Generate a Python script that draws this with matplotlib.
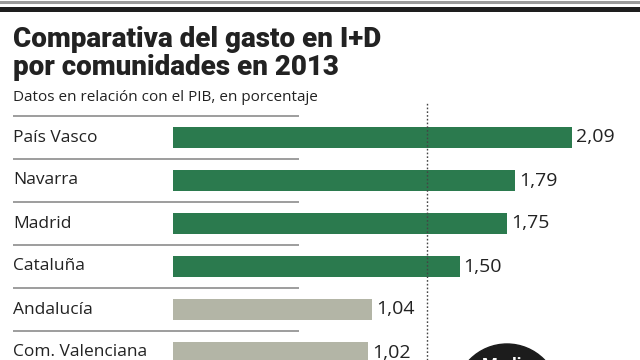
import matplotlib.pyplot as plt
from matplotlib.patches import Ellipse

regions = ['País Vasco', 'Navarra', 'Madrid', 'Cataluña', 'Andalucía', 'Com. Valenciana']
values = [2.09, 1.79, 1.75, 1.50, 1.04, 1.02]
above_mean = [True, True, True, True, False, False]
spain_mean = 1.33  # position of the dotted reference line

GREEN = '#2b7a4e'
GREY = '#b3b5a6'
TEXT = '#222222'

W, H = 640, 360
fig = plt.figure(figsize=(6.4, 3.6), dpi=100)
fig.patch.set_facecolor('white')

# axes covering the full width, below the subtitle
px_per_unit = 191
x0 = 173
top = 103
ax = fig.add_axes([0, 0, 1, 1 - top / H])
ax.set_xlim(-x0 / px_per_unit, (W - x0) / px_per_unit)
row_h = 43
first_row = 137.5
ax.set_ylim((H - first_row) / row_h, (top - first_row) / row_h)
ax.axis('off')

y = list(range(len(regions)))
colors = [GREEN if a else GREY for a in above_mean]
ax.barh(y, values, height=0.49, color=colors)

label_x = (13 - x0) / px_per_unit
line_end = (299 - x0) / px_per_unit
for i, (name, v) in enumerate(zip(regions, values)):
    ax.text(label_x, i, name, ha='left', va='center', fontsize=12.5,
            family='Open Sans', color=TEXT)
    ax.annotate(f'{v:.2f}'.replace('.', ','), (v, i), xytext=(3, 0),
                textcoords='offset points', ha='left', va='center',
                fontsize=14, family='Open Sans', color=TEXT)
    ax.plot([label_x, line_end], [i - 0.5, i - 0.5], color='#8c8c8c', lw=1.2,
            solid_capstyle='butt')

ax.axvline(spain_mean, color='#444444', lw=1, linestyle=(0, (1.2, 1.5)))

# header rules
fig.add_artist(plt.Line2D([0, 1], [1 - 1.5 / H, 1 - 1.5 / H], color='#9a9a9a', lw=2.2))
fig.add_artist(plt.Line2D([0, 1], [1 - 8.5 / H, 1 - 8.5 / H], color='#1e1e1e', lw=3.6))

fig.text(13 / W, 1 - 47 / H, 'Comparativa del gasto en I+D', fontsize=20,
         fontweight='black', family='Roboto', color=TEXT, va='baseline')
fig.text(13 / W, 1 - 75 / H, 'por comunidades en 2013', fontsize=20,
         fontweight='black', family='Roboto', color=TEXT, va='baseline')
fig.text(13 / W, 1 - 101 / H, 'Datos en relación con el PIB, en porcentaje', fontsize=11,
         family='Open Sans', color=TEXT, va='baseline')

# "Media" badge, cut by the bottom edge as in the original
fig.add_artist(Ellipse((507 / W, 1 - 396 / H), 104 / W, 104 / H, color='#1c1c1c'))
fig.text(507 / W, 1 - 371 / H, 'Media', fontsize=13, fontweight='bold',
         family='Roboto', color='white', ha='center', va='baseline')

fig.savefig('out.png', dpi=100)
